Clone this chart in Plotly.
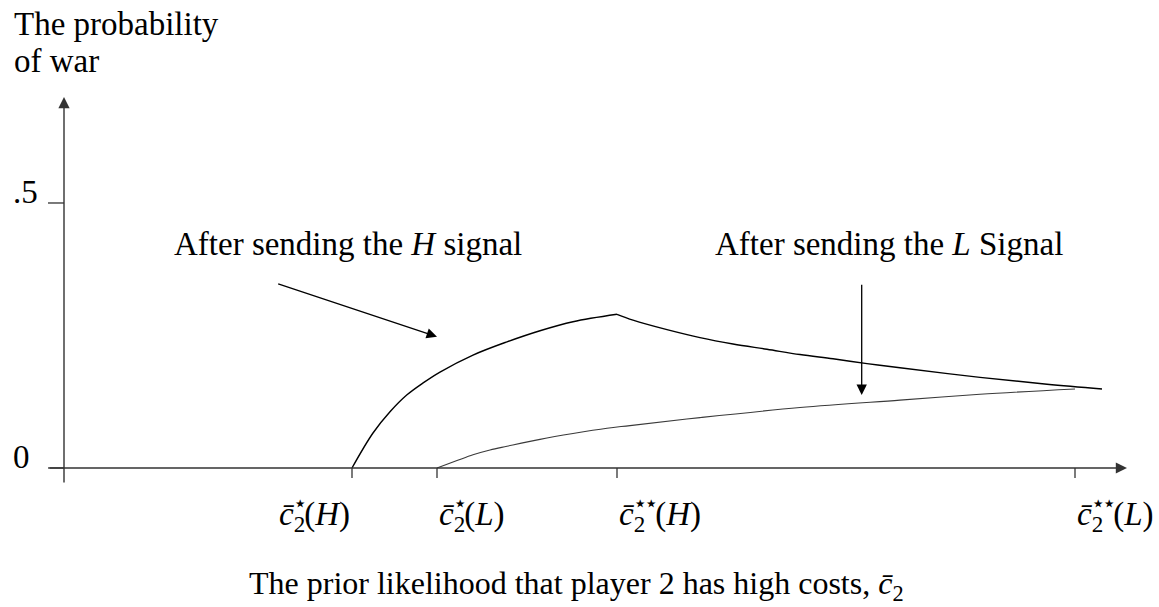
import plotly.graph_objects as go

# ---------------- data ----------------
# x: prior likelihood that player 2 has high costs (arbitrary units), y: probability of war
h_rise_x = [0.288, 0.309, 0.326, 0.343, 0.3595, 0.376, 0.409, 0.443, 0.476, 0.509, 0.553]
h_rise_y = [0.000, 0.066, 0.106, 0.138, 0.161, 0.181, 0.213, 0.238, 0.259, 0.276, 0.290]

h_fall_x = [0.553, 0.569, 0.603, 0.636, 0.669, 0.703, 0.736, 0.769, 0.803, 0.836, 0.916, 0.983, 1.038]
h_fall_y = [0.290, 0.279, 0.261, 0.246, 0.234, 0.224, 0.214, 0.206, 0.197, 0.189, 0.171, 0.158, 0.149]

l_x = [0.373, 0.393, 0.409, 0.426, 0.443, 0.476, 0.509, 0.543, 0.566, 0.636, 0.736, 0.836, 0.916, 1.011]
l_y = [0.000, 0.014, 0.025, 0.034, 0.041, 0.054, 0.065, 0.075, 0.080, 0.095, 0.114, 0.128, 0.139, 0.149]

thresholds = [0.288, 0.373, 0.553, 1.011]
threshold_stars = ["⋆", "⋆", "⋆⋆", "⋆⋆"]
threshold_types = ["H", "L", "H", "L"]
y_ticks = [0.0, 0.5]
y_tick_labels = ["0", ".5"]

# ---------------- styling ----------------
FONT = "Liberation Serif"
FS = 33
AXC = "#333333"


def cbar_label(stars, typ):
    # c-bar with subscript 2 and superscript stars stacked (negative letter-spacing pulls stars over the 2)
    return ("<i>c̄</i><sub><span style='letter-spacing:-12px'>2</span></sub>"
            f"<sup><span style='letter-spacing:-3px'>{stars}</span></sup>(<i>{typ}</i>)")


fig = go.Figure()

line_h = dict(color="black", width=1.4, shape="spline", smoothing=1.0)
fig.add_trace(go.Scatter(x=h_rise_x, y=h_rise_y, mode="lines", line=line_h,
                         hoverinfo="skip", showlegend=False))
fig.add_trace(go.Scatter(x=h_fall_x, y=h_fall_y, mode="lines", line=line_h,
                         hoverinfo="skip", showlegend=False))
fig.add_trace(go.Scatter(x=l_x, y=l_y, mode="lines",
                         line=dict(color="#3a3a3a", width=1.1, shape="spline", smoothing=1.0),
                         hoverinfo="skip", showlegend=False))

shapes = []
annotations = []

# axes drawn as arrows
annotations.append(dict(x=1.063, y=0, ax=-0.016, ay=0, xref="x", yref="y", axref="x", ayref="y",
                        text="", showarrow=True, arrowhead=2, arrowsize=1.6, arrowwidth=1.4,
                        arrowcolor=AXC, standoff=0))
annotations.append(dict(x=0, y=0.700, ax=0, ay=-0.030, xref="x", yref="y", axref="x", ayref="y",
                        text="", showarrow=True, arrowhead=2, arrowsize=1.6, arrowwidth=1.4,
                        arrowcolor=AXC, standoff=0))

# x ticks + labels
anchors = ["right", "left", "left", "left"]
for t, st, typ, anc in zip(thresholds, threshold_stars, threshold_types, anchors):
    shapes.append(dict(type="line", xref="x", yref="y", x0=t, x1=t, y0=0, y1=-0.019,
                       line=dict(color=AXC, width=1.3)))
    annotations.append(dict(x=t, y=-0.083, xref="x", yref="y", text=cbar_label(st, typ),
                            showarrow=False, xanchor=anc, yanchor="middle",
                            font=dict(family=FONT, size=FS, color="black")))

# y ticks + labels
for v, lab in zip(y_ticks, y_tick_labels):
    shapes.append(dict(type="line", xref="x", yref="y", x0=-0.016, x1=0, y0=v, y1=v,
                       line=dict(color=AXC, width=1.3)))
    annotations.append(dict(x=-0.053, y=v + 0.02, xref="x", yref="y", text=lab, showarrow=False,
                            xanchor="left", yanchor="middle",
                            font=dict(family=FONT, size=FS, color="black")))

# axis titles
annotations.append(dict(x=-0.052, y=0.838, xref="x", yref="y", text="The probability",
                        showarrow=False, xanchor="left", yanchor="middle",
                        font=dict(family=FONT, size=FS, color="black")))
annotations.append(dict(x=-0.052, y=0.768, xref="x", yref="y", text="of war",
                        showarrow=False, xanchor="left", yanchor="middle",
                        font=dict(family=FONT, size=FS, color="black")))
annotations.append(dict(x=0.512, y=-0.221, xref="x", yref="y",
                        text="The prior likelihood that player 2 has high costs, <i>c̄</i><sub>2</sub>",
                        showarrow=False, xanchor="center", yanchor="middle",
                        font=dict(family=FONT, size=32, color="black")))

# curve labels with arrows
annotations.append(dict(x=0.108, y=0.4226, xref="x", yref="y",
                        text="After sending the <i>H</i> signal", showarrow=False,
                        xanchor="left", yanchor="middle",
                        font=dict(family=FONT, size=FS, color="black")))
annotations.append(dict(x=1.001, y=0.4226, xref="x", yref="y",
                        text="After sending the <i>L</i> Signal", showarrow=False,
                        xanchor="right", yanchor="middle",
                        font=dict(family=FONT, size=FS, color="black")))
annotations.append(dict(x=0.373, y=0.2477, ax=0.2127, ay=0.3485, xref="x", yref="y",
                        axref="x", ayref="y", text="", showarrow=True, arrowhead=2,
                        arrowsize=1.6, arrowwidth=1.3, arrowcolor="black", standoff=0))
annotations.append(dict(x=0.7977, y=0.1377, ax=0.7977, ay=0.3485, xref="x", yref="y",
                        axref="x", ayref="y", text="", showarrow=True, arrowhead=2,
                        arrowsize=1.6, arrowwidth=1.3, arrowcolor="black", standoff=0))

fig.update_layout(
    width=1159, height=607, autosize=False,
    margin=dict(l=0, r=0, t=0, b=0, pad=0),
    paper_bgcolor="white", plot_bgcolor="white",
    xaxis=dict(range=[-0.064, 1.095], visible=False, fixedrange=True),
    yaxis=dict(range=[-0.2623, 0.8830], visible=False, fixedrange=True),
    shapes=shapes, annotations=annotations,
    showlegend=False,
)

fig.write_html("out.html", config={"displayModeBar": False},
               post_script="document.body.style.margin='0';")
